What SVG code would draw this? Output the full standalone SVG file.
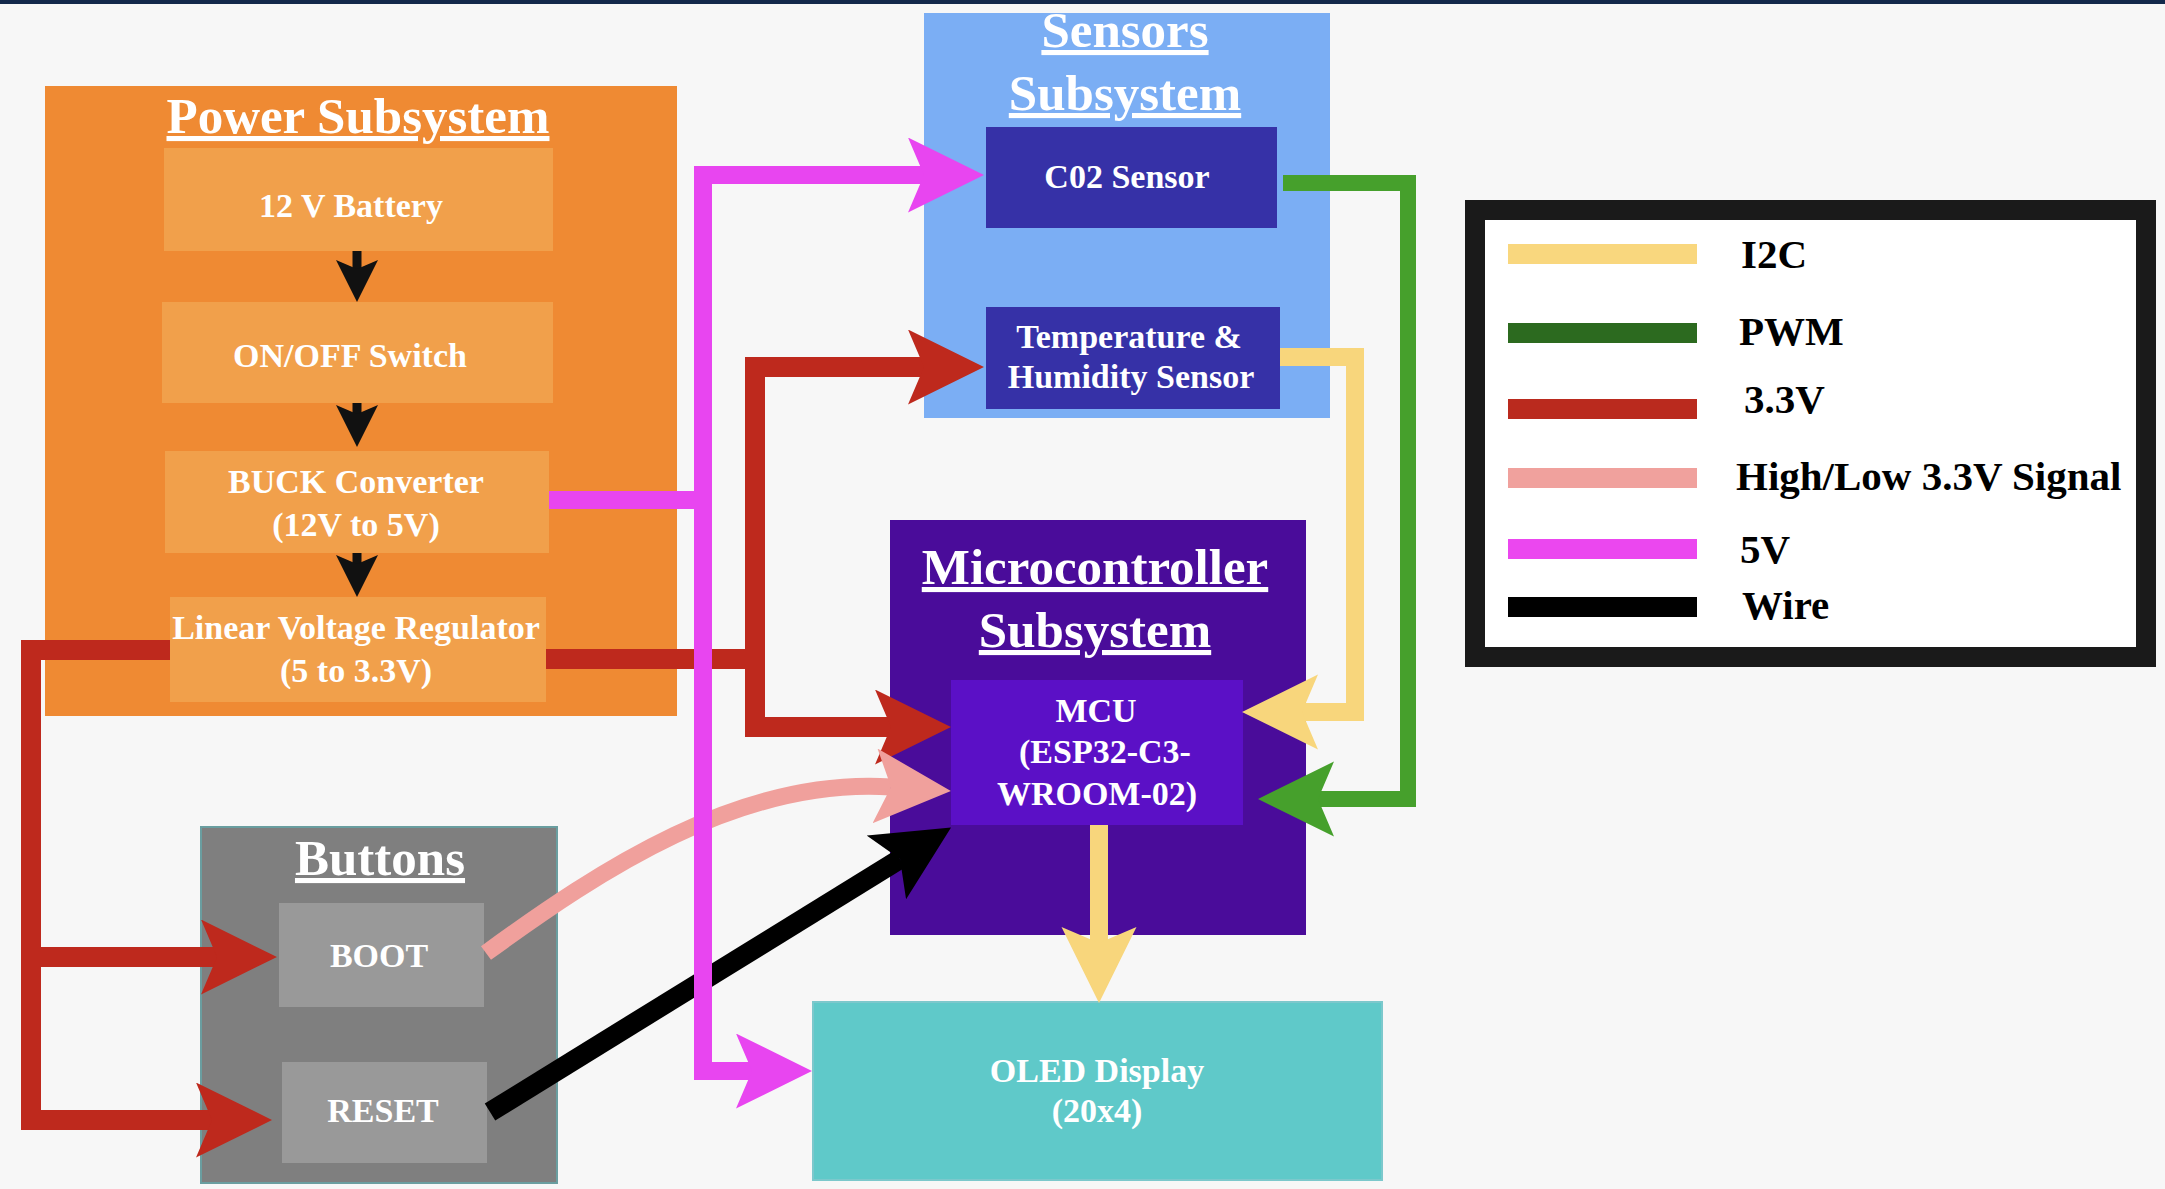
<svg xmlns="http://www.w3.org/2000/svg" width="2165" height="1189" viewBox="0 0 2165 1189">
<style>
.t{font-family:"Liberation Serif","Times New Roman",serif;font-weight:bold;fill:#ffffff;text-anchor:middle}
.title{font-size:51px;text-decoration:underline}
.lbl{font-size:34px}
.leg{font-family:"Liberation Serif","Times New Roman",serif;font-weight:bold;font-size:41px;fill:#000000}
.w{fill:none;stroke-linejoin:miter;stroke-linecap:butt}
.mag{stroke:#E845F0;stroke-width:18}
.red{stroke:#BE291D;stroke-width:20}
.grn{stroke:#46A02C;stroke-width:16}
.yel{stroke:#F8D67C;stroke-width:18}
.pnk{stroke:#F0A09C;stroke-width:17}
.blk{stroke:#000000;stroke-width:20}
.blks{stroke:#111111;stroke-width:9}
.inP{fill:#F1A04B}
.sens{fill:#3631A7}
.btn{fill:#999999}
</style>
<defs>
<marker id="hMag" markerUnits="userSpaceOnUse" markerWidth="80" markerHeight="80" viewBox="0 0 80 80" refX="16" refY="37.5" orient="auto"><path d="M0,0 L76,37.5 L0,75 L16,37.5 Z" fill="#E845F0"/></marker>
<marker id="hRed" markerUnits="userSpaceOnUse" markerWidth="80" markerHeight="80" viewBox="0 0 80 80" refX="16" refY="37.5" orient="auto"><path d="M0,0 L76,37.5 L0,75 L16,37.5 Z" fill="#BE291D"/></marker>
<marker id="hGrn" markerUnits="userSpaceOnUse" markerWidth="80" markerHeight="80" viewBox="0 0 80 80" refX="16" refY="37.5" orient="auto"><path d="M0,0 L76,37.5 L0,75 L16,37.5 Z" fill="#46A02C"/></marker>
<marker id="hYel" markerUnits="userSpaceOnUse" markerWidth="80" markerHeight="80" viewBox="0 0 80 80" refX="16" refY="37.5" orient="auto"><path d="M0,0 L76,37.5 L0,75 L16,37.5 Z" fill="#F8D67C"/></marker>
<marker id="hPnk" markerUnits="userSpaceOnUse" markerWidth="80" markerHeight="80" viewBox="0 0 80 80" refX="16" refY="37.5" orient="auto"><path d="M0,0 L76,37.5 L0,75 L16,37.5 Z" fill="#F0A09C"/></marker>
<marker id="hBlk" markerUnits="userSpaceOnUse" markerWidth="80" markerHeight="80" viewBox="0 0 80 80" refX="16" refY="37.5" orient="auto"><path d="M0,0 L76,37.5 L0,75 L16,37.5 Z" fill="#000000"/></marker>
<marker id="hS" markerUnits="userSpaceOnUse" markerWidth="44" markerHeight="44" viewBox="0 0 44 44" refX="9" refY="21" orient="auto"><path d="M0,0 L42,21 L0,42 L9,21 Z" fill="#111111"/></marker>
</defs>

<rect x="0" y="0" width="2165" height="1189" fill="#F7F7F7"/>
<rect x="0" y="0" width="2165" height="4" fill="#13294B"/>

<g id="power-subsystem">
<rect x="45" y="86" width="632" height="630" fill="#EF8A33"/>
<text class="t title" x="358" y="133">Power Subsystem</text>
</g>
<g id="battery">
<rect class="inP" x="164" y="148" width="389" height="103"/>
<text class="t lbl" x="351" y="217">12 V Battery</text>
</g>
<g id="switch">
<rect class="inP" x="162" y="302" width="391" height="101"/>
<text class="t lbl" x="350" y="367">ON/OFF Switch</text>
</g>
<g id="buck">
<rect class="inP" x="165" y="451" width="384" height="102"/>
<text class="t lbl" x="356" y="493">BUCK Converter</text>
<text class="t lbl" x="356" y="536">(12V to 5V)</text>
</g>
<g id="ldo">
<rect class="inP" x="170" y="597" width="376" height="105"/>
<text class="t lbl" x="356" y="639">Linear Voltage Regulator</text>
<text class="t lbl" x="356" y="682">(5 to 3.3V)</text>
</g>

<g id="sensors-subsystem">
<rect x="924" y="13" width="406" height="405" fill="#7BAEF4"/>
<text class="t title" x="1125" y="47">Sensors</text>
<text class="t title" x="1125" y="110">Subsystem</text>
</g>
<g id="co2">
<rect class="sens" x="986" y="127" width="291" height="101"/>
<text class="t lbl" x="1127" y="188">C02 Sensor</text>
</g>
<g id="temp-hum">
<rect class="sens" x="986" y="307" width="294" height="102"/>
<text class="t lbl" x="1129" y="348">Temperature &amp;</text>
<text class="t lbl" x="1131" y="388">Humidity Sensor</text>
</g>

<g id="mcu-subsystem">
<rect x="890" y="520" width="416" height="415" fill="#4A0C9A"/>
<text class="t title" x="1095" y="584">Microcontroller</text>
<text class="t title" x="1095" y="647">Subsystem</text>
</g>
<g id="mcu">
<rect x="951" y="680" width="292" height="145" fill="#5B10C6"/>
<text class="t lbl" x="1096" y="722">MCU</text>
<text class="t lbl" x="1105" y="763">(ESP32-C3-</text>
<text class="t lbl" x="1097" y="805">WROOM-02)</text>
</g>

<g id="oled">
<rect x="813" y="1002" width="569" height="178" fill="#5FC9C9" stroke="#7CC8CC" stroke-width="2"/>
<text class="t lbl" x="1097" y="1082">OLED Display</text>
<text class="t lbl" x="1097" y="1122">(20x4)</text>
</g>

<g id="buttons">
<rect x="201" y="827" width="356" height="356" fill="#7F7F7F" stroke="#6A9EA0" stroke-width="2"/>
<text class="t title" x="380" y="875">Buttons</text>
</g>
<g id="boot">
<rect class="btn" x="279" y="903" width="205" height="104"/>
<text class="t lbl" x="379" y="967">BOOT</text>
</g>
<g id="reset">
<rect class="btn" x="282" y="1062" width="205" height="101"/>
<text class="t lbl" x="383" y="1122">RESET</text>
</g>

<g id="legend">
<rect x="1475" y="210" width="671" height="447" fill="#FFFFFF" stroke="#1A1A1A" stroke-width="20"/>
<rect x="1508" y="244" width="189" height="20" fill="#F9D77E"/>
<rect x="1508" y="323" width="189" height="20" fill="#2C6A1F"/>
<rect x="1508" y="399" width="189" height="20" fill="#BA2A1E"/>
<rect x="1508" y="468" width="189" height="20" fill="#F0A19D"/>
<rect x="1508" y="539" width="189" height="20" fill="#EB47EF"/>
<rect x="1508" y="597" width="189" height="20" fill="#000000"/>
<text class="leg" x="1741" y="268">I2C</text>
<text class="leg" x="1739" y="345">PWM</text>
<text class="leg" x="1744" y="413">3.3V</text>
<text class="leg" x="1736" y="490">High/Low 3.3V Signal</text>
<text class="leg" x="1740" y="563">5V</text>
<text class="leg" x="1742" y="619">Wire</text>
</g>

<g id="connectors">
<path class="w blks" d="M357,251 V269" marker-end="url(#hS)"/>
<path class="w blks" d="M357,403 V414" marker-end="url(#hS)"/>
<path class="w blks" d="M357,553 V564" marker-end="url(#hS)"/>

<path class="w red" d="M170,650 H31 V1120 H212" marker-end="url(#hRed)"/>
<path class="w red" d="M31,957 H217" marker-end="url(#hRed)"/>
<path class="w red" d="M546,659 H755 V367 H924" marker-end="url(#hRed)"/>
<path class="w red" d="M755,659 V727 H891" marker-end="url(#hRed)"/>

<path class="w blk" d="M490,1112 L900,859" marker-end="url(#hBlk)"/>
<path class="w pnk" d="M486,953 C600,870 740,777 891,787" marker-end="url(#hPnk)"/>

<path class="w mag" d="M549,500 H703"/>
<path class="w mag" d="M703,510 V175 H924" marker-end="url(#hMag)"/>
<path class="w mag" d="M703,490 V1071 H752" marker-end="url(#hMag)"/>

<path class="w grn" d="M1283,183 H1408 V799 H1318" marker-end="url(#hGrn)"/>
<path class="w yel" d="M1280,357 H1355 V712 H1302" marker-end="url(#hYel)"/>
<path class="w yel" d="M1099,825 V943" marker-end="url(#hYel)"/>
</g>
</svg>
